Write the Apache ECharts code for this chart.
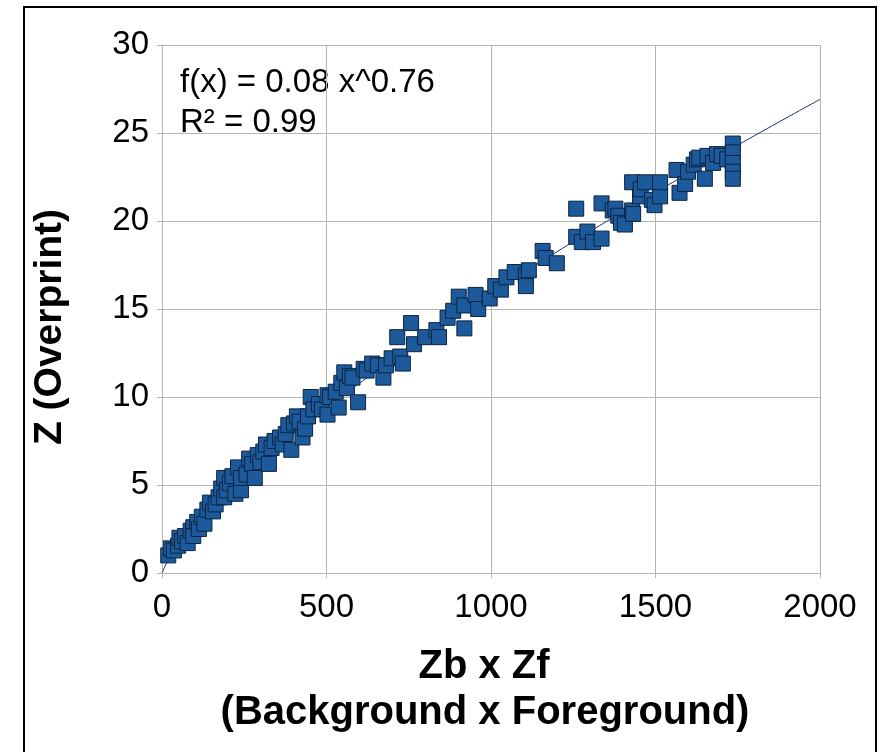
<!DOCTYPE html>
<html>
<head>
<meta charset="utf-8">
<script src="https://cdn.jsdelivr.net/npm/echarts@6/dist/echarts.min.js"></script>
<style>html,body{margin:0;padding:0;background:#fff;}#c{width:878px;height:752px;}</style>
</head>
<body>
<div id="c"></div>
<script>
// Scatter data: Zb x Zf (x) and Z overprint (y)
const zbzf = [19,27,36,49,53,61,70,78,87,95,95,107,112,121,129,138,146,155,163,172,180,189,189,197,206,214,223,231,240,240,257,265,274,282,291,299,308,316,325,333,342,359,367,376,384,393,401,410,418,427,435,444,452,460,477,486,503,503,511,528,537,545,554,562,571,579,596,613,622,639,656,673,681,698,715,724,732,757,766,800,834,842,868,885,902,919,919,953,961,996,1013,1030,1047,1072,1106,1106,1115,1157,1166,1200,1259,1259,1276,1293,1310,1336,1336,1370,1378,1387,1395,1407,1429,1429,1432,1453,1455,1468,1489,1497,1514,1514,1564,1573,1590,1599,1616,1626,1633,1650,1658,1675,1687,1701,1718,1735,1735,1735,1735,1735];
const overprint = [1.0,1.4,1.28,1.55,2.0,1.8,2.1,1.7,2.4,2.6,2.1,2.9,2.5,3.2,2.8,3.6,4.0,3.5,3.9,4.3,4.8,5.4,4.3,4.7,5.1,5.5,4.5,6.0,4.7,5.4,5.6,6.5,6.2,5.4,6.7,6.3,6.9,7.3,6.2,7.1,7.5,7.7,7.3,7.9,8.4,7.0,8.5,8.9,8.6,7.7,8.2,8.9,10.0,9.3,9.6,9.3,9.0,10.1,10.0,10.3,9.4,10.8,11.4,10.5,11.2,11.1,9.7,11.6,11.5,11.9,11.8,11.1,11.8,12.2,13.4,12.3,11.9,14.2,13.0,13.4,13.8,13.4,14.5,14.9,15.7,13.9,15.2,15.8,15.0,15.6,16.3,16.1,16.8,17.1,16.9,16.3,17.2,18.3,17.9,17.6,20.7,19.1,18.8,19.4,18.8,19.0,21.0,20.6,20.7,20.3,19.9,19.8,20.6,22.2,20.4,21.4,21.8,22.2,21.2,20.9,21.4,22.2,22.9,21.6,22.1,22.8,23.2,23.5,23.6,22.4,23.7,23.3,23.8,23.7,23.5,24.4,23.9,23.3,22.8,22.4];
// Trend line points
const trendX = [0,25,50,100,200,300,400,500,600,800,1000,1200,1400,1600,1800,2000];
const trendY = [0,0.96,1.63,2.76,4.68,6.37,7.92,9.38,10.78,13.41,15.89,18.25,20.52,22.71,24.84,26.91];
// Axis ticks
const xTicks = [0,500,1000,1500,2000];
const yTicks = [0,5,10,15,20,25,30];
const equationText = 'f(x) = 0.08 x^0.76';
const r2Text = 'R² = 0.99';
const xTitle1 = 'Zb x Zf';
const xTitle2 = '(Background x Foreground)';
const yTitle = 'Z (Overprint)';

const FONT = 'Liberation Sans, Arial, sans-serif';
const chart = echarts.init(document.getElementById('c'), null, {renderer: 'canvas'});
const gridColor = '#b4b4b4';
chart.setOption({
  animation: false,
  backgroundColor: '#ffffff',
  grid: {left: 162, right: 58, top: 45, bottom: 179, containLabel: false},
  xAxis: {
    type: 'value', min: xTicks[0], max: xTicks[xTicks.length-1], interval: 500,
    axisLine: {show: true, lineStyle: {color: gridColor, width: 1}},
    axisTick: {show: true, length: 5, lineStyle: {color: gridColor}},
    splitLine: {show: true, lineStyle: {color: gridColor, width: 1}},
    axisLabel: {fontSize: 33, color: '#000', fontFamily: FONT, margin: 18, formatter: v => String(v)}
  },
  yAxis: {
    type: 'value', min: yTicks[0], max: yTicks[yTicks.length-1], interval: 5,
    axisLine: {show: true, lineStyle: {color: gridColor, width: 1}},
    axisTick: {show: true, length: 5, lineStyle: {color: gridColor}},
    splitLine: {show: true, lineStyle: {color: gridColor, width: 1}},
    axisLabel: {fontSize: 33, color: '#000', fontFamily: FONT, margin: 13, formatter: v => String(v)}
  },
  series: [
    {
      type: 'line', data: trendX.map((x,i)=>[x, trendY[i]]), smooth: true,
      showSymbol: false, symbol: 'none', z: 1,
      lineStyle: {color: '#1c2f78', width: 1}
    },
    {
      type: 'scatter', data: zbzf.map((x,i)=>[x, overprint[i]]), z: 2,
      symbol: 'rect', symbolSize: 15,
      itemStyle: {color: '#1d5a9b', borderColor: '#0b2440', borderWidth: 1, opacity: 1}
    }
  ],
  graphic: [
    {type: 'rect', shape: {x: 24, y: 7, width: 852, height: 760}, style: {fill: 'none', stroke: '#000', lineWidth: 2}, silent: true},
    {type: 'text', left: 180, top: 66, style: {text: equationText, font: '33px ' + FONT, fill: '#000'}},
    {type: 'text', left: 180, top: 106, style: {text: r2Text, font: '33px ' + FONT, fill: '#000'}},
    {type: 'text', x: 484, y: 667, style: {text: xTitle1, font: 'bold 40px ' + FONT, fill: '#000', align: 'center', verticalAlign: 'middle'}},
    {type: 'text', x: 485, y: 713, style: {text: xTitle2, font: 'bold 40px ' + FONT, fill: '#000', align: 'center', verticalAlign: 'middle'}},
    {type: 'text', x: 50, y: 327, rotation: Math.PI/2, style: {text: yTitle, font: 'bold 39px ' + FONT, fill: '#000', align: 'center', verticalAlign: 'middle'}}
  ]
});
</script>
</body>
</html>
